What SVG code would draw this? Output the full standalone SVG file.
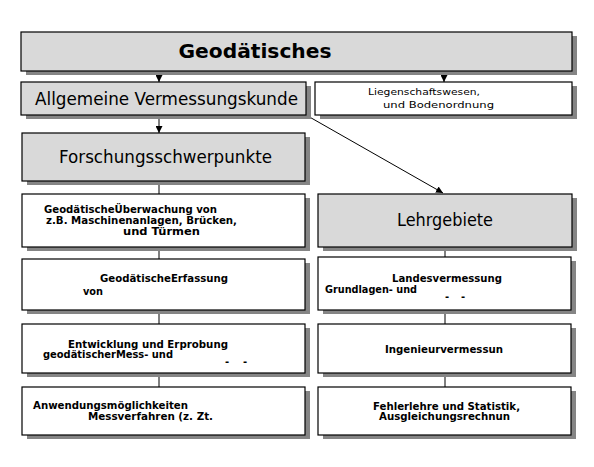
<svg xmlns="http://www.w3.org/2000/svg" width="594" height="467" viewBox="0 0 594 467">
<style>
.sh{fill:#858585}
.g{fill:#d9d9d9;stroke:#000;stroke-width:1.2}
.w{fill:#fff;stroke:#000;stroke-width:1.2}
.big{font-family:"DejaVu Sans",Verdana,sans-serif;font-size:17px;fill:#000}
.t{font-family:"DejaVu Sans",Verdana,sans-serif;font-size:10px;font-weight:bold;fill:#000}
.s{font-family:"DejaVu Sans",Verdana,sans-serif;font-size:9.5px;fill:#000}
.ln{stroke:#000;stroke-width:1;fill:none}
</style>
<defs>
<marker id="ah" viewBox="0 0 10 10" refX="10" refY="5" markerWidth="7" markerHeight="7" markerUnits="userSpaceOnUse" orient="auto">
<path d="M0,0 L10,5 L0,10 z" fill="#000"/>
</marker>
</defs>
<rect width="594" height="467" fill="#fff"/>
<g id="connectors">
<line class="ln" x1="159" y1="71" x2="159" y2="82" marker-end="url(#ah)"/>
<line class="ln" x1="444" y1="71" x2="444" y2="82" marker-end="url(#ah)"/>
<line class="ln" x1="159" y1="115" x2="159" y2="133" marker-end="url(#ah)"/>
<line class="ln" x1="306" y1="115" x2="443" y2="193" marker-end="url(#ah)"/>
<line class="ln" x1="159" y1="181" x2="159" y2="194"/>
<line class="ln" x1="159" y1="247" x2="159" y2="259"/>
<line class="ln" x1="159" y1="310" x2="159" y2="324"/>
<line class="ln" x1="159" y1="373" x2="159" y2="387"/>
<line class="ln" x1="445" y1="247" x2="445" y2="257"/>
<line class="ln" x1="445" y1="310" x2="445" y2="324"/>
<line class="ln" x1="445" y1="373" x2="445" y2="387"/>
</g>
<g id="n-geodaetisches">
<rect class="sh" x="26" y="36" width="551" height="39"/>
<rect class="g" x="21" y="32" width="551" height="39"/>
<text x="255" y="58" text-anchor="middle" font-family="'DejaVu Sans',Verdana,sans-serif" font-size="20" font-weight="bold" textLength="153" lengthAdjust="spacingAndGlyphs">Geodätisches</text>
</g>
<g id="n-allgemeine">
<rect class="sh" x="26" y="86" width="285" height="33"/>
<rect class="g" x="21" y="82" width="285" height="33"/>
<text class="big" x="35" y="105" textLength="263" lengthAdjust="spacingAndGlyphs">Allgemeine Vermessungskunde</text>
</g>
<g id="n-liegenschaft">
<rect class="sh" x="320" y="86" width="257" height="33"/>
<rect class="w" x="315" y="82" width="257" height="33"/>
<text class="s" x="368" y="95" textLength="112" lengthAdjust="spacingAndGlyphs">Liegenschaftswesen,</text>
<text class="s" x="383" y="108" textLength="111" lengthAdjust="spacingAndGlyphs">und Bodenordnung</text>
</g>
<g id="n-forschung">
<rect class="sh" x="27" y="137" width="283" height="48"/>
<rect class="g" x="22" y="133" width="283" height="48"/>
<text class="big" x="59" y="163" textLength="213" lengthAdjust="spacingAndGlyphs">Forschungsschwerpunkte</text>
</g>
<g id="n-lehrgebiete">
<rect class="sh" x="323" y="198" width="254" height="53"/>
<rect class="g" x="318" y="194" width="254" height="53"/>
<text class="big" x="397" y="226" textLength="96" lengthAdjust="spacingAndGlyphs">Lehrgebiete</text>
</g>
<g id="n-ueberwachung">
<rect class="sh" x="27" y="198" width="283" height="53"/>
<rect class="w" x="22" y="194" width="283" height="53"/>
<text class="t" x="44" y="213" textLength="173" lengthAdjust="spacingAndGlyphs">GeodätischeÜberwachung von</text>
<text class="t" x="46" y="224" textLength="191" lengthAdjust="spacingAndGlyphs">z.B. Maschinenanlagen, Brücken,</text>
<text class="t" x="123" y="235" textLength="77" lengthAdjust="spacingAndGlyphs">und Türmen</text>
</g>
<g id="n-erfassung">
<rect class="sh" x="27" y="263" width="283" height="51"/>
<rect class="w" x="22" y="259" width="283" height="51"/>
<text class="t" x="100" y="282" textLength="128" lengthAdjust="spacingAndGlyphs">GeodätischeErfassung</text>
<text class="t" x="83" y="295" textLength="20" lengthAdjust="spacingAndGlyphs">von</text>
</g>
<g id="n-entwicklung">
<rect class="sh" x="27" y="328" width="283" height="49"/>
<rect class="w" x="22" y="324" width="283" height="49"/>
<text class="t" x="68" y="348" textLength="160" lengthAdjust="spacingAndGlyphs">Entwicklung und Erprobung</text>
<text class="t" x="43" y="358" textLength="130" lengthAdjust="spacingAndGlyphs">geodätischerMess- und</text>
<text class="t" x="225" y="365">-</text>
<text class="t" x="243" y="365">-</text>
</g>
<g id="n-anwendung">
<rect class="sh" x="27" y="391" width="283" height="48"/>
<rect class="w" x="22" y="387" width="283" height="48"/>
<text class="t" x="33" y="409" textLength="155" lengthAdjust="spacingAndGlyphs">Anwendungsmöglichkeiten</text>
<text class="t" x="88" y="420" textLength="125" lengthAdjust="spacingAndGlyphs">Messverfahren (z. Zt.</text>
</g>
<g id="n-landesvermessung">
<rect class="sh" x="323" y="261" width="253" height="53"/>
<rect class="w" x="318" y="257" width="253" height="53"/>
<text class="t" x="392" y="282" textLength="110" lengthAdjust="spacingAndGlyphs">Landesvermessung</text>
<text class="t" x="325" y="293" textLength="92" lengthAdjust="spacingAndGlyphs">Grundlagen- und</text>
<text class="t" x="445" y="300">-</text>
<text class="t" x="461" y="300">-</text>
</g>
<g id="n-ingenieur">
<rect class="sh" x="323" y="328" width="253" height="49"/>
<rect class="w" x="318" y="324" width="253" height="49"/>
<text class="t" x="385" y="353" textLength="118" lengthAdjust="spacingAndGlyphs">Ingenieurvermessun</text>
</g>
<g id="n-fehlerlehre">
<rect class="sh" x="323" y="391" width="253" height="48"/>
<rect class="w" x="318" y="387" width="253" height="48"/>
<text class="t" x="373" y="410" textLength="147" lengthAdjust="spacingAndGlyphs">Fehlerlehre und Statistik,</text>
<text class="t" x="379" y="420" textLength="131" lengthAdjust="spacingAndGlyphs">Ausgleichungsrechnun</text>
</g>
</svg>
